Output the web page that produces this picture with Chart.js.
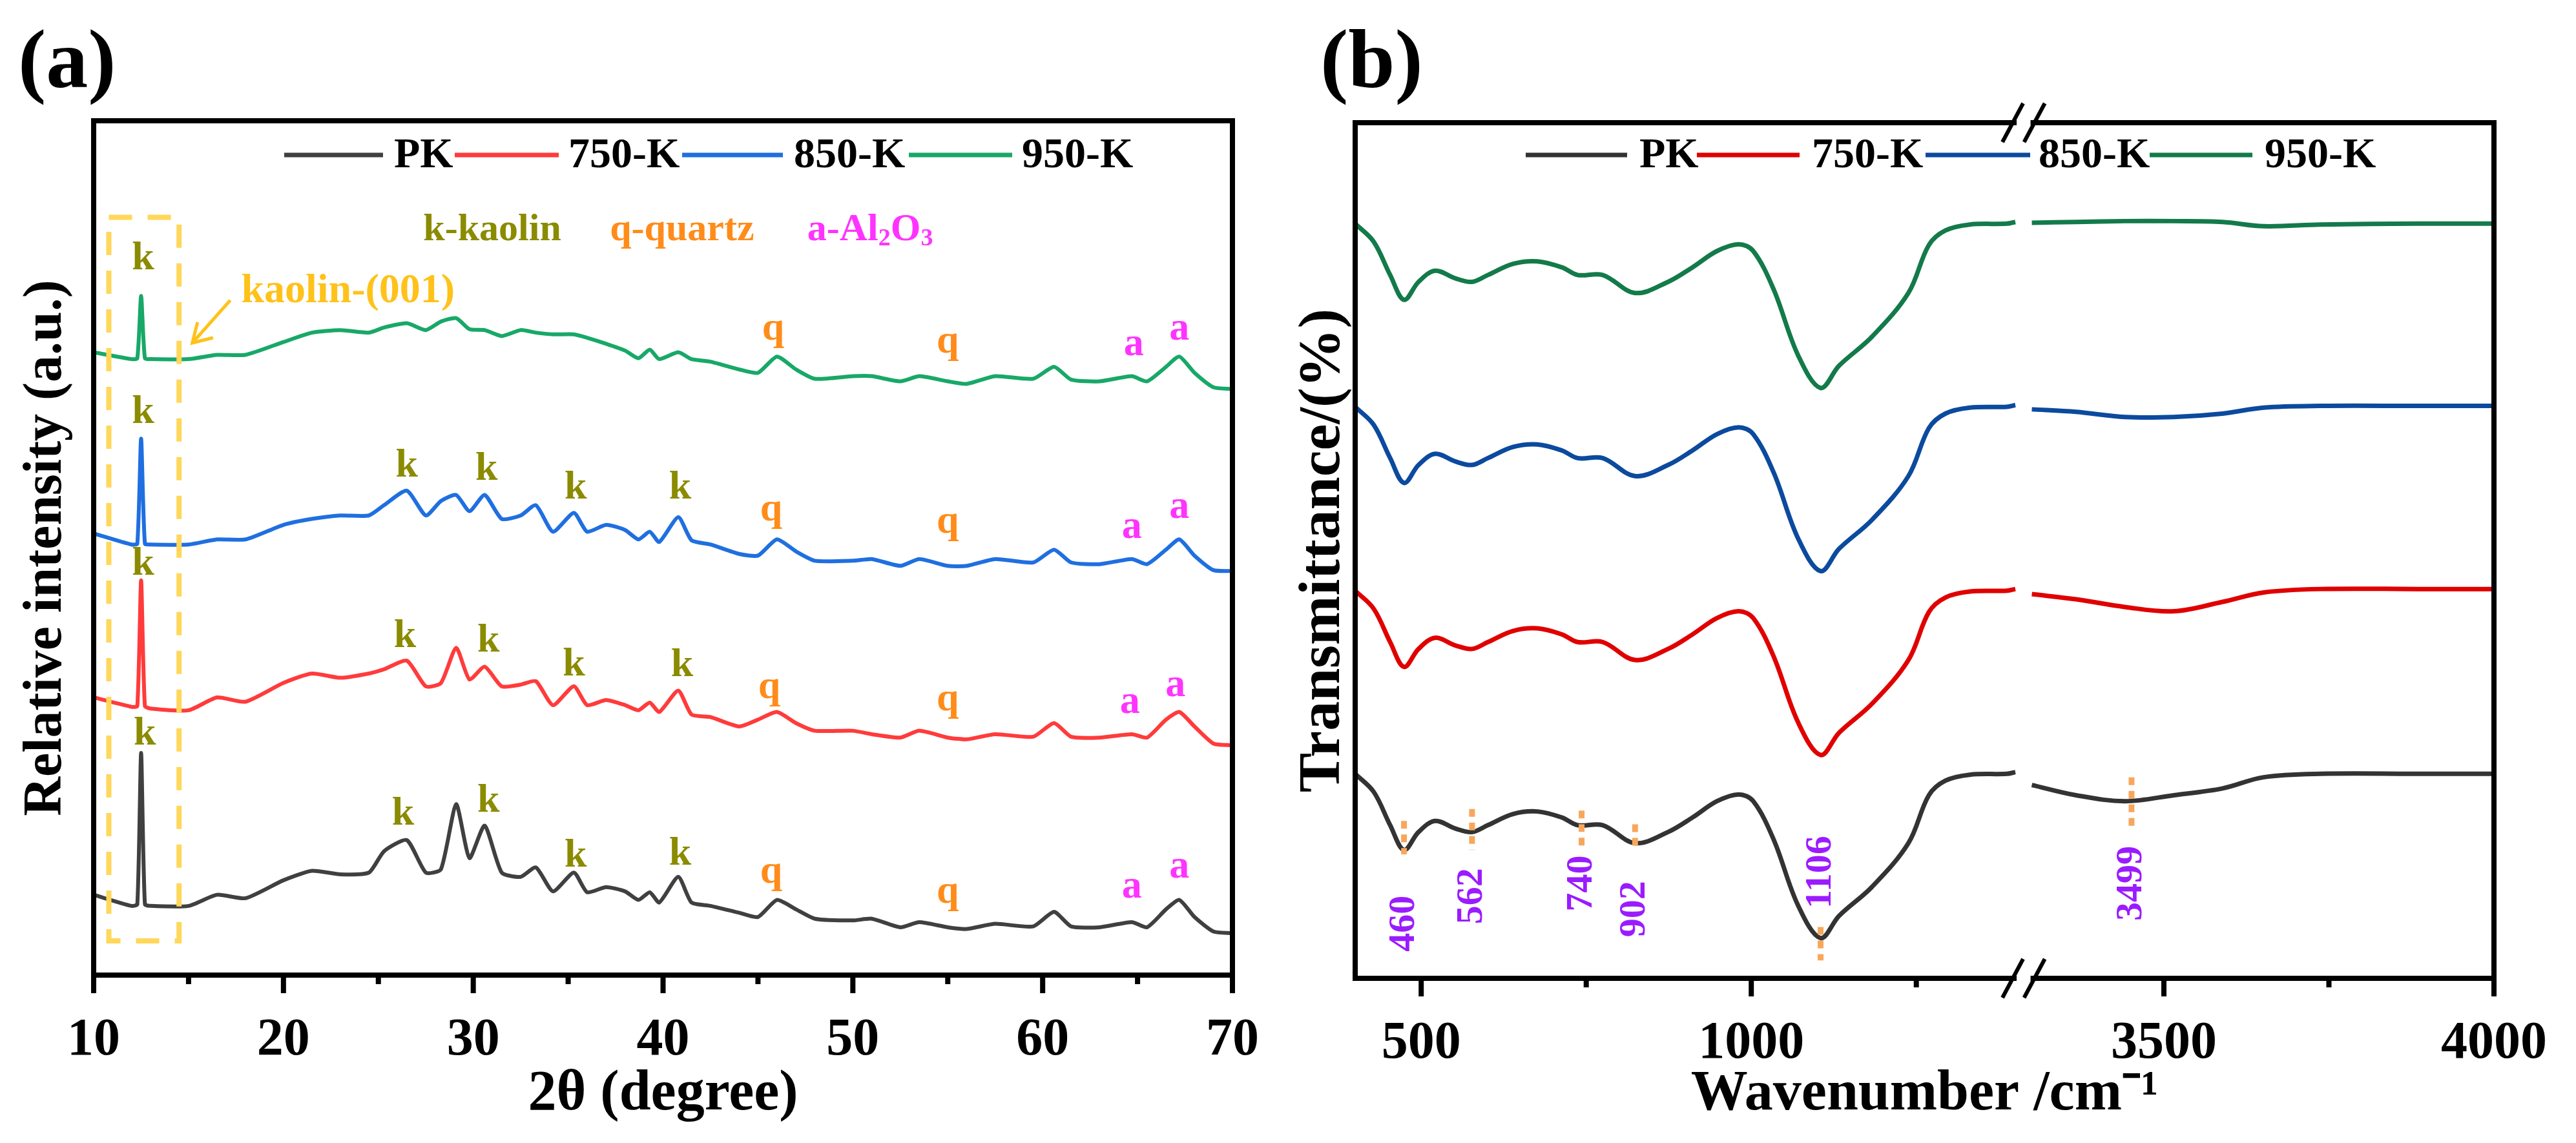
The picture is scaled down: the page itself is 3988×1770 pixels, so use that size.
<!DOCTYPE html>
<html>
<head>
<meta charset="utf-8">
<script src="https://cdn.jsdelivr.net/npm/chart.js@4/dist/chart.umd.min.js"></script>
<style>
  body { margin: 0; background: #fff; font-family: 'Liberation Serif', 'Times New Roman', serif; }
  .panel { position: absolute; top: 0; height: 1770px; }
</style>
</head>
<body>
<div class="panel" style="left:0;width:1994px"><canvas id="xrd"></canvas></div>
<div class="panel" style="left:1994px;width:1994px"><canvas id="ftir"></canvas></div>
<script>
// ---------- (a) XRD ----------
const xrdAngle = [10, 12, 12.3, 12.5, 12.7, 13, 15, 16.5, 18, 20, 21.5, 23, 24.5, 25.3, 26.5, 27.5, 28.3, 29.1, 29.8, 30.6, 31.5, 32.5, 33.3, 34.2, 35.3, 36, 37, 38, 38.7, 39.3, 39.8, 40.8, 41.5, 42.5, 44, 45, 46, 47, 48, 50, 51, 52.5, 53.5, 55, 56, 57.5, 59.5, 60.6, 61.5, 63, 64.7, 65.5, 66.5, 67.2, 68, 69, 70];
const xrdPK = [9.4, 8.1, 8.3, 26, 8.3, 8.1, 8.1, 9.4, 9, 11.1, 12.2, 11.8, 12, 14.5, 15.8, 12, 12.4, 20, 13.7, 17.5, 12, 11.5, 12.6, 9.8, 12, 9.7, 10.3, 9.8, 8.8, 9.7, 8.5, 11.5, 8.5, 8.1, 7.3, 6.8, 8.8, 7.7, 6.6, 6.4, 6.6, 5.6, 6.2, 5.6, 5.4, 6, 5.7, 7.4, 5.7, 5.6, 6.2, 5.6, 7.7, 8.8, 6.8, 5.1, 4.9];
const xrd750 = [32.5, 31.4, 31.5, 46.2, 31.5, 31.2, 31, 32.5, 32, 34.2, 35.3, 34.8, 35.3, 35.8, 36.8, 33.8, 34.2, 38.3, 34.6, 36.1, 33.8, 34, 34.4, 31.6, 33.8, 31.6, 32.2, 31.6, 31, 31.9, 30.8, 33.3, 30.5, 30.2, 29.1, 29.9, 30.8, 29.5, 28.6, 28.6, 28.2, 27.8, 28.6, 27.8, 27.6, 28.2, 27.9, 29.5, 27.9, 27.8, 28.2, 27.8, 29.9, 30.8, 29.1, 27.1, 26.9];
const xrd850 = [51.7, 50.4, 50.5, 62.8, 50.5, 50.4, 50.4, 51, 51, 52.7, 53.4, 53.8, 53.8, 55, 56.7, 53.8, 55.5, 56.2, 54.3, 56.2, 53.4, 53.8, 55, 51.9, 54.1, 51.9, 52.7, 52.1, 51, 51.9, 50.7, 53.6, 50.9, 50.4, 49.3, 49.1, 51, 49.6, 48.5, 48.5, 48.7, 47.9, 48.7, 47.9, 47.9, 48.7, 48.3, 49.8, 48.3, 48.1, 48.7, 48.1, 49.8, 51, 49.1, 47.4, 47.3];
const xrd950 = [72.9, 72.1, 72.2, 79.5, 72.2, 72.1, 72.1, 72.6, 72.6, 74.1, 75.2, 75.5, 75.2, 75.8, 76.3, 75.5, 76.5, 76.9, 75.6, 75.5, 74.8, 75.5, 75.2, 75, 75, 74.6, 73.9, 73.1, 72.2, 73.2, 72.1, 72.9, 72.1, 71.8, 70.9, 70.5, 72.4, 70.9, 69.8, 70.1, 70.1, 69.5, 70.1, 69.5, 69.2, 70.1, 69.8, 71.2, 69.7, 69.5, 70.1, 69.5, 71.2, 72.4, 70.5, 68.8, 68.6];
const xrdNames = ['PK', '750-K', '850-K', '950-K'];
const xrdColors = ['#404040', '#FF3B3B', '#1F6FE0', '#18A868'];
const xrdMarks = [
  [12.6, 83.8, 'k'], [45.8, 75.6, 'q'], [55, 74.1, 'q'], [64.8, 73.8, 'a'], [67.2, 75.6, 'a'],
  [12.6, 65.8, 'k'], [26.5, 59.6, 'k'], [30.7, 59.2, 'k'], [35.4, 57, 'k'], [40.9, 57, 'k'], [45.7, 54.4, 'q'], [55, 53, 'q'], [64.7, 52.4, 'a'], [67.2, 54.7, 'a'],
  [12.6, 48.1, 'k'], [26.4, 39.6, 'k'], [30.8, 39.1, 'k'], [35.3, 36.3, 'k'], [41, 36.2, 'k'], [45.6, 33.6, 'q'], [55, 32.2, 'q'], [64.6, 31.9, 'a'], [67, 33.9, 'a'],
  [12.7, 28.2, 'k'], [26.3, 18.8, 'k'], [30.8, 20.3, 'k'], [35.4, 13.9, 'k'], [40.9, 14.1, 'k'], [45.7, 12, 'q'], [55, 9.7, 'q'], [64.7, 10.3, 'a'], [67.2, 12.6, 'a']
];
const markColor = { k: '#8B8B00', q: '#FF8C1A', a: '#FF33FF' };

// ---------- (b) FTIR ----------
const ftirLow = [400, 428, 453, 474, 496, 521, 552, 577, 601, 639, 676, 713, 737, 775, 824, 874, 911, 948, 981, 1003, 1034, 1071, 1105, 1133, 1183, 1238, 1269, 1294, 1331, 1387, 1400];
const ftirHigh = [3300, 3367, 3441, 3515, 3589, 3651, 3737, 3885, 4000];
const ftirPK = [23.9, 21.8, 17.9, 15, 17.1, 18.4, 17.5, 17.1, 17.9, 19.2, 19.5, 18.8, 17.9, 17.9, 15.8, 17.1, 18.8, 20.7, 21.5, 20.7, 16.2, 8.5, 4.7, 7.3, 10.7, 15.8, 21.4, 23.1, 23.8, 23.9, 24.1,
                22.6, 21.4, 20.7, 21.4, 22.2, 23.5, 23.9, 23.9, 23.9];
const ftir750 = [45.3, 43.2, 39.3, 36.4, 38.5, 39.8, 38.9, 38.5, 39.3, 40.6, 40.9, 40.2, 39.3, 39.3, 37.2, 38.5, 40.2, 42.1, 42.9, 42.1, 37.6, 29.9, 26.1, 28.7, 32.1, 37.2, 42.8, 44.5, 45.2, 45.3, 45.5,
                 44.9, 44.3, 43.4, 42.9, 44, 45.1, 45.5, 45.5, 45.5];
const ftir850 = [66.8, 64.7, 60.8, 57.9, 60, 61.3, 60.4, 60, 60.8, 62.1, 62.4, 61.7, 60.8, 60.8, 58.7, 60, 61.7, 63.6, 64.4, 63.6, 59.1, 51.4, 47.6, 50.2, 53.6, 58.7, 64.3, 66, 66.7, 66.8, 67,
                 66.5, 66.2, 65.6, 65.6, 66, 66.7, 66.9, 66.9, 66.9];
const ftir950 = [88.2, 86.1, 82.2, 79.3, 81.4, 82.7, 81.8, 81.4, 82.2, 83.5, 83.8, 83.1, 82.2, 82.2, 80.1, 81.4, 83.1, 85, 85.8, 85, 80.5, 72.8, 69, 71.6, 75, 80.1, 85.7, 87.4, 88.1, 88.2, 88.4,
                 88.3, 88.4, 88.5, 88.5, 88.4, 87.9, 88.1, 88.2, 88.2];
const ftirColors = ['#333333', '#E00000', '#0B4A9E', '#137A4A'];
const ftirPeaks = [[474, '460', 6.4, 18.4, 14.5], [577, '562', 9.6, 19.8, 15], [743, '740', 11.1, 19.6, 15.4], [824, '902', 8.1, 18, 15], [1105, '1106', 12.4, 6, 2.1], [3451, '3499', 11.1, 23.5, 17.5]];
const ftirTicks = [500, 1000, 3500, 4000];
const ftirMinor = [750, 1250, 3750];

// broken axis: 1400..3300 collapsed into a small gap
const BREAK_LO = 1400, BREAK_HI = 3300, GAP = 25;
function brk(w) { return w <= BREAK_LO ? w : w - BREAK_HI + BREAK_LO + GAP; }
function unbrk(v) { return v <= BREAK_LO ? v : v + BREAK_HI - BREAK_LO - GAP; }

const SERIF = "'Liberation Serif', 'Times New Roman', serif";
const bold = (s) => 'bold ' + s + 'px ' + SERIF;

function drawLegend(ctx, items) {
  ctx.save();
  ctx.font = bold(66);
  ctx.textBaseline = 'middle';
  items.forEach(([x0, x1, tx, label, color]) => {
    ctx.strokeStyle = color; ctx.lineWidth = 7;
    ctx.beginPath(); ctx.moveTo(x0, 240); ctx.lineTo(x1, 240); ctx.stroke();
    ctx.fillStyle = '#000'; ctx.fillText(label, tx, 242);
  });
  ctx.restore();
}

const xrdPlugin = {
  id: 'xrdDeco',
  afterDraw(chart) {
    const { ctx, chartArea: a, scales: { x, y } } = chart;
    ctx.save();
    ctx.strokeStyle = '#000'; ctx.lineWidth = 8;
    ctx.strokeRect(a.left, a.top, a.right - a.left, a.bottom - a.top);
    for (let v = 10; v <= 70; v += 5) {
      const px = x.getPixelForValue(v);
      ctx.beginPath(); ctx.moveTo(px, a.bottom); ctx.lineTo(px, a.bottom + (v % 10 === 0 ? 28 : 14)); ctx.stroke();
    }
    // dashed box around (001)
    ctx.strokeStyle = '#FFD75A'; ctx.lineWidth = 8; ctx.setLineDash([36, 24]);
    const bx0 = x.getPixelForValue(10.8), bx1 = x.getPixelForValue(14.5), by0 = y.getPixelForValue(88.7), by1 = y.getPixelForValue(4);
    ctx.strokeRect(bx0, by0, bx1 - bx0, by1 - by0);
    ctx.setLineDash([]);
    ctx.strokeStyle = '#FFC21A'; ctx.lineWidth = 5;
    const ax0 = x.getPixelForValue(17.2), ay0 = y.getPixelForValue(79), ax1 = x.getPixelForValue(15.2), ay1 = y.getPixelForValue(74);
    ctx.beginPath(); ctx.moveTo(ax0, ay0); ctx.lineTo(ax1, ay1); ctx.stroke();
    ctx.beginPath(); ctx.moveTo(ax1 + 32, ay1 - 8); ctx.lineTo(ax1, ay1); ctx.lineTo(ax1 + 8, ay1 - 32); ctx.stroke();
    ctx.fillStyle = '#FFC21A'; ctx.font = bold(64); ctx.textAlign = 'center'; ctx.textBaseline = 'middle';
    ctx.fillText('kaolin-(001)', x.getPixelForValue(23.4), y.getPixelForValue(80));
    ctx.font = bold(60);
    ctx.fillStyle = markColor.k; ctx.fillText('k-kaolin', x.getPixelForValue(31), y.getPixelForValue(87.2));
    ctx.fillStyle = markColor.q; ctx.fillText('q-quartz', x.getPixelForValue(41), y.getPixelForValue(87.2));
    ctx.fillStyle = markColor.a;
    let px = x.getPixelForValue(47.6), py = y.getPixelForValue(87.2);
    ctx.textAlign = 'left';
    [['a-Al', 60, 0], ['2', 38, 14], ['O', 60, 0], ['3', 38, 14]].forEach(([t, s, dy]) => {
      ctx.font = bold(s); ctx.fillText(t, px, py + dy); px += ctx.measureText(t).width;
    });
    ctx.textAlign = 'center'; ctx.font = bold(62);
    xrdMarks.forEach(([mx, my, t]) => { ctx.fillStyle = markColor[t]; ctx.fillText(t, x.getPixelForValue(mx), y.getPixelForValue(my)); });
    ctx.fillStyle = '#000'; ctx.font = bold(130); ctx.textAlign = 'left'; ctx.textBaseline = 'alphabetic';
    ctx.fillText('(a)', 28, 135);
    ctx.restore();
    drawLegend(ctx, [[440, 593, 610, 'PK', xrdColors[0]], [704, 865, 880, '750-K', xrdColors[1]], [1056, 1212, 1229, '850-K', xrdColors[2]], [1407, 1567, 1582, '950-K', xrdColors[3]]]);
  }
};

const ftirX = ftirLow.concat(ftirHigh);
function ftirData(s) {
  const pts = [];
  ftirX.forEach((w, j) => {
    if (w === BREAK_HI) pts.push({ x: brk(BREAK_LO) + GAP / 2, y: null });
    pts.push({ x: brk(w), y: s[j] });
  });
  return pts;
}
const ftirPlugin = {
  id: 'ftirDeco',
  afterDraw(chart) {
    const { ctx, chartArea: a, scales: { x, y } } = chart;
    ctx.save();
    ctx.strokeStyle = '#000'; ctx.lineWidth = 8;
    const b0 = x.getPixelForValue(BREAK_LO) + 2, b1 = x.getPixelForValue(BREAK_LO + GAP) - 2;
    ctx.beginPath();
    ctx.moveTo(b0, a.top); ctx.lineTo(a.left, a.top); ctx.lineTo(a.left, a.bottom); ctx.lineTo(b0, a.bottom);
    ctx.moveTo(b1, a.top); ctx.lineTo(a.right, a.top); ctx.lineTo(a.right, a.bottom); ctx.lineTo(b1, a.bottom);
    ctx.stroke();
    ctx.lineWidth = 6;
    [a.top, a.bottom].forEach(yy => {
      [b0 - 6, b1 + 6].forEach(xx => {
        ctx.beginPath(); ctx.moveTo(xx - 16, yy + 30); ctx.lineTo(xx + 16, yy - 30); ctx.stroke();
      });
    });
    ctx.lineWidth = 8;
    ftirTicks.forEach(w => { const px = x.getPixelForValue(brk(w)); ctx.beginPath(); ctx.moveTo(px, a.bottom); ctx.lineTo(px, a.bottom + 28); ctx.stroke(); });
    ftirMinor.forEach(w => { const px = x.getPixelForValue(brk(w)); ctx.beginPath(); ctx.moveTo(px, a.bottom); ctx.lineTo(px, a.bottom + 14); ctx.stroke(); });
    ftirPeaks.forEach(([w, t, ty, d0, d1]) => {
      const px = x.getPixelForValue(brk(w));
      ctx.strokeStyle = '#F7A75C'; ctx.lineWidth = 9; ctx.setLineDash([12, 9]);
      ctx.beginPath(); ctx.moveTo(px, y.getPixelForValue(d0)); ctx.lineTo(px, y.getPixelForValue(d1)); ctx.stroke();
      ctx.setLineDash([]);
      ctx.save();
      ctx.translate(px, y.getPixelForValue(ty)); ctx.rotate(-Math.PI / 2);
      ctx.fillStyle = '#9B1BFF'; ctx.font = bold(58); ctx.textAlign = 'center'; ctx.textBaseline = 'middle';
      ctx.fillText(t, 0, 0);
      ctx.restore();
    });
    ctx.fillStyle = '#000'; ctx.font = bold(130); ctx.textAlign = 'left'; ctx.textBaseline = 'alphabetic';
    ctx.fillText('(b)', 50, 135);
    ctx.restore();
    const o = 1994;
    drawLegend(ctx, [[2362 - o, 2519 - o, 2538 - o, 'PK', ftirColors[0]], [2627 - o, 2786 - o, 2805 - o, '750-K', ftirColors[1]], [2981 - o, 3143 - o, 3156 - o, '850-K', ftirColors[2]], [3328 - o, 3487 - o, 3506 - o, '950-K', ftirColors[3]]]);
  }
};

function build() {
  new Chart(document.getElementById('xrd'), {
    type: 'line',
    data: {
      datasets: [xrdPK, xrd750, xrd850, xrd950].map((s, i) => ({
        label: xrdNames[i],
        data: s.map((v, j) => ({ x: xrdAngle[j], y: v })),
        borderColor: xrdColors[i], borderWidth: 6, pointRadius: 0, tension: 0.2
      }))
    },
    options: {
      responsive: true, maintainAspectRatio: false, animation: false,
      layout: { padding: { top: 187, right: 53, left: 0, bottom: 0 } },
      plugins: { legend: { display: false }, tooltip: { enabled: false } },
      scales: {
        x: {
          type: 'linear', min: 10, max: 70,
          afterFit: (s) => { s.height = 260; },
          afterBuildTicks: (s) => { s.ticks = [10, 20, 30, 40, 50, 60, 70].map(v => ({ value: v })); },
          grid: { display: false }, border: { display: false },
          ticks: { padding: 45, color: '#000', font: { family: SERIF, size: 82, weight: 'bold' } },
          title: { display: true, text: '2θ (degree)', color: '#000', padding: { top: 0, bottom: 22 }, font: { family: SERIF, size: 88, weight: 'bold' } }
        },
        y: {
          min: 0, max: 100,
          afterFit: (s) => { s.width = 145; },
          grid: { display: false }, border: { display: false }, ticks: { display: false },
          title: { display: true, text: 'Relative intensity (a.u.)', color: '#000', padding: { top: 22, bottom: 0 }, font: { family: SERIF, size: 84, weight: 'bold' } }
        }
      }
    },
    plugins: [xrdPlugin]
  });

  new Chart(document.getElementById('ftir'), {
    type: 'line',
    data: {
      datasets: [ftirPK, ftir750, ftir850, ftir950].map((s, i) => ({
        label: xrdNames[i], data: ftirData(s), spanGaps: false,
        borderColor: ftirColors[i], borderWidth: 7, pointRadius: 0, tension: 0.35
      }))
    },
    options: {
      responsive: true, maintainAspectRatio: false, animation: false,
      layout: { padding: { top: 190, right: 96, left: 0, bottom: 0 } },
      plugins: { legend: { display: false }, tooltip: { enabled: false } },
      scales: {
        x: {
          type: 'linear', min: 400, max: brk(4000),
          afterFit: (s) => { s.height = 255; },
          afterBuildTicks: (s) => { s.ticks = ftirTicks.map(w => ({ value: brk(w) })); },
          grid: { display: false }, border: { display: false },
          ticks: { padding: 45, color: '#000', font: { family: SERIF, size: 82, weight: 'bold' }, callback: (v) => String(Math.round(unbrk(v))) },
          title: { display: true, text: 'Wavenumber /cm⁻¹', color: '#000', padding: { top: 0, bottom: 22 }, font: { family: SERIF, size: 88, weight: 'bold' } }
        },
        y: {
          min: 0, max: 100,
          afterFit: (s) => { s.width = 104; },
          grid: { display: false }, border: { display: false }, ticks: { display: false },
          title: { display: true, text: 'Transmittance/(%)', color: '#000', padding: { top: 0, bottom: 0 }, font: { family: SERIF, size: 92, weight: 'bold' } }
        }
      }
    },
    plugins: [ftirPlugin]
  });
}

Promise.all([document.fonts.load(bold(80)), document.fonts.load('80px ' + SERIF)]).then(build, build);
</script>
</body>
</html>
